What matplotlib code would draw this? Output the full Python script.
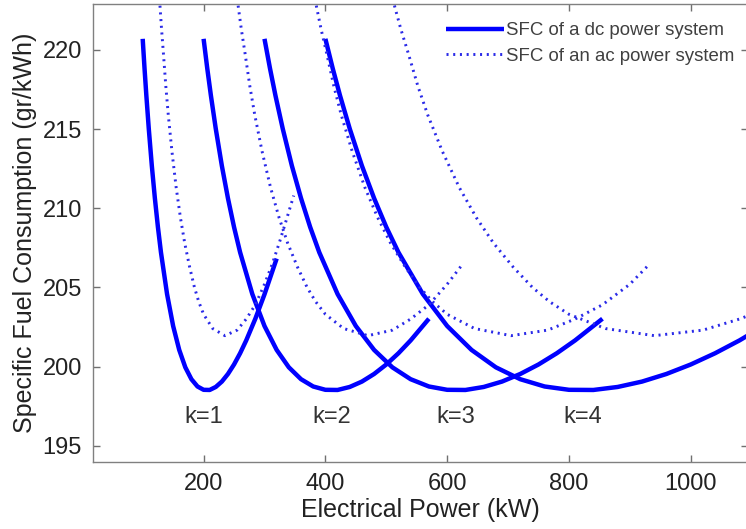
import matplotlib
matplotlib.use('Agg')
import matplotlib.pyplot as plt

plt.rcParams['font.family'] = ['Liberation Sans', 'DejaVu Sans']

# dc system, one curve per number of running generators k
dc_k1_kw = [100, 103, 106, 110, 115, 120, 125, 130, 140, 150, 160, 170, 180, 190, 200, 210, 220, 230, 240, 250, 260, 270, 285, 300, 320]
dc_k1_sfc = [220.7, 218.84, 217.12, 215.02, 212.68, 210.63, 208.81, 207.21, 204.58, 202.56, 201.05, 199.95, 199.2, 198.74, 198.53, 198.52, 198.71, 199.05, 199.53, 200.13, 200.84, 201.65, 203.02, 204.56, 206.82]

dc_k2_kw = [200, 206, 212, 220, 230, 240, 250, 260, 280, 300, 320, 340, 360, 380, 400, 420, 440, 460, 480, 500, 520, 540, 570]
dc_k2_sfc = [220.7, 218.84, 217.12, 215.02, 212.68, 210.63, 208.81, 207.21, 204.58, 202.56, 201.05, 199.95, 199.2, 198.74, 198.53, 198.52, 198.71, 199.05, 199.53, 200.13, 200.84, 201.65, 203.02]

dc_k3_kw = [300, 309, 318, 330, 345, 360, 375, 390, 420, 450, 480, 510, 540, 570, 600, 630, 660, 690, 720, 750, 780, 810, 855]
dc_k3_sfc = [220.7, 218.84, 217.12, 215.02, 212.68, 210.63, 208.81, 207.21, 204.58, 202.56, 201.05, 199.95, 199.2, 198.74, 198.53, 198.52, 198.71, 199.05, 199.53, 200.13, 200.84, 201.65, 203.02]

dc_k4_kw = [400, 412, 424, 440, 460, 480, 500, 520, 560, 600, 640, 680, 720, 760, 800, 840, 880, 920, 960, 1000, 1040, 1080, 1140]
dc_k4_sfc = [220.7, 218.84, 217.12, 215.02, 212.68, 210.63, 208.81, 207.21, 204.58, 202.56, 201.05, 199.95, 199.2, 198.74, 198.53, 198.52, 198.71, 199.05, 199.53, 200.13, 200.84, 201.65, 203.02]

# ac system
ac_k1_kw = [126, 128, 131, 134, 138, 142, 148, 155, 162, 169, 177, 185, 192, 200, 215, 235, 255, 270, 285, 300, 313, 325, 337, 348]
ac_k1_sfc = [224.2, 223.0, 221.3, 219.8, 217.7, 215.9, 213.6, 211.3, 209.4, 207.8, 206.3, 205.0, 204.1, 203.3, 202.4, 201.95, 202.3, 203.0, 203.9, 205.2, 206.5, 207.9, 209.4, 210.8]

ac_k2_kw = [252, 256, 262, 268, 276, 284, 296, 310, 324, 338, 354, 370, 384, 400, 430, 470, 510, 540, 570, 600, 626]
ac_k2_sfc = [224.2, 223.0, 221.3, 219.8, 217.7, 215.9, 213.6, 211.3, 209.4, 207.8, 206.3, 205.0, 204.1, 203.3, 202.4, 201.95, 202.3, 203.0, 203.9, 205.2, 206.5]

ac_k3_kw = [378, 384, 393, 402, 414, 426, 444, 465, 486, 507, 531, 555, 576, 600, 645, 705, 765, 810, 855, 900, 933]
ac_k3_sfc = [224.2, 223.0, 221.3, 219.8, 217.7, 215.9, 213.6, 211.3, 209.4, 207.8, 206.3, 205.0, 204.1, 203.3, 202.4, 201.95, 202.3, 203.0, 203.9, 205.2, 206.5]

ac_k4_kw = [504, 512, 524, 536, 552, 568, 592, 620, 648, 676, 708, 740, 768, 800, 860, 940, 1020, 1080, 1140]
ac_k4_sfc = [224.2, 223.0, 221.3, 219.8, 217.7, 215.9, 213.6, 211.3, 209.4, 207.8, 206.3, 205.0, 204.1, 203.3, 202.4, 201.95, 202.3, 203.0, 203.9]

k_labels = ['k=1', 'k=2', 'k=3', 'k=4']
k_label_kw = [201, 411, 614, 823]
k_label_sfc = 196.8

fig = plt.figure(figsize=(7.46, 5.29), dpi=100)
ax = fig.add_axes([93/746, 1 - 462/529, 655/746, 458/529])

blue = '#0000ff'
dc_curves = [(dc_k1_kw, dc_k1_sfc), (dc_k2_kw, dc_k2_sfc), (dc_k3_kw, dc_k3_sfc), (dc_k4_kw, dc_k4_sfc)]
ac_curves = [(ac_k1_kw, ac_k1_sfc), (ac_k2_kw, ac_k2_sfc), (ac_k3_kw, ac_k3_sfc), (ac_k4_kw, ac_k4_sfc)]

for i, (x, y) in enumerate(dc_curves):
    ax.plot(x, y, color=blue, lw=3.2, solid_capstyle='butt',
            label='SFC of a dc power system' if i == 0 else None)
for i, (x, y) in enumerate(ac_curves):
    ax.plot(x, y, color='#2a2ae8', lw=2.1, linestyle=(0, (0.7, 1.6)),
            label='SFC of an ac power system' if i == 0 else None)

for lab, xk in zip(k_labels, k_label_kw):
    ax.text(xk, k_label_sfc, lab, ha='center', va='center', fontsize=17, color='#333333')

ax.set_xlim(18.4, 1094)
ax.set_ylim(193.97, 222.9)
ax.set_xticks([200, 400, 600, 800, 1000])
ax.set_yticks([195, 200, 205, 210, 215, 220])
ax.tick_params(direction='in', top=True, right=True, length=5, width=1,
               color='#707070', labelsize=17, labelcolor='#222222', pad=8)
for s in ax.spines.values():
    s.set_color('#808080')
    s.set_linewidth(1.0)

ax.set_xlabel('Electrical Power (kW)', fontsize=18, color='#222222', labelpad=2)
ax.set_ylabel('Specific Fuel Consumption (gr/kWh)', fontsize=18, color='#222222', labelpad=4)

fig.legend(loc='upper left', bbox_to_anchor=(0.598, 0.958), frameon=False,
           fontsize=13.4, labelcolor='#404040', handlelength=3.1,
           handletextpad=0.1, borderpad=0, borderaxespad=0, labelspacing=0.45)

fig.savefig('out.png', dpi=100, facecolor='white')
